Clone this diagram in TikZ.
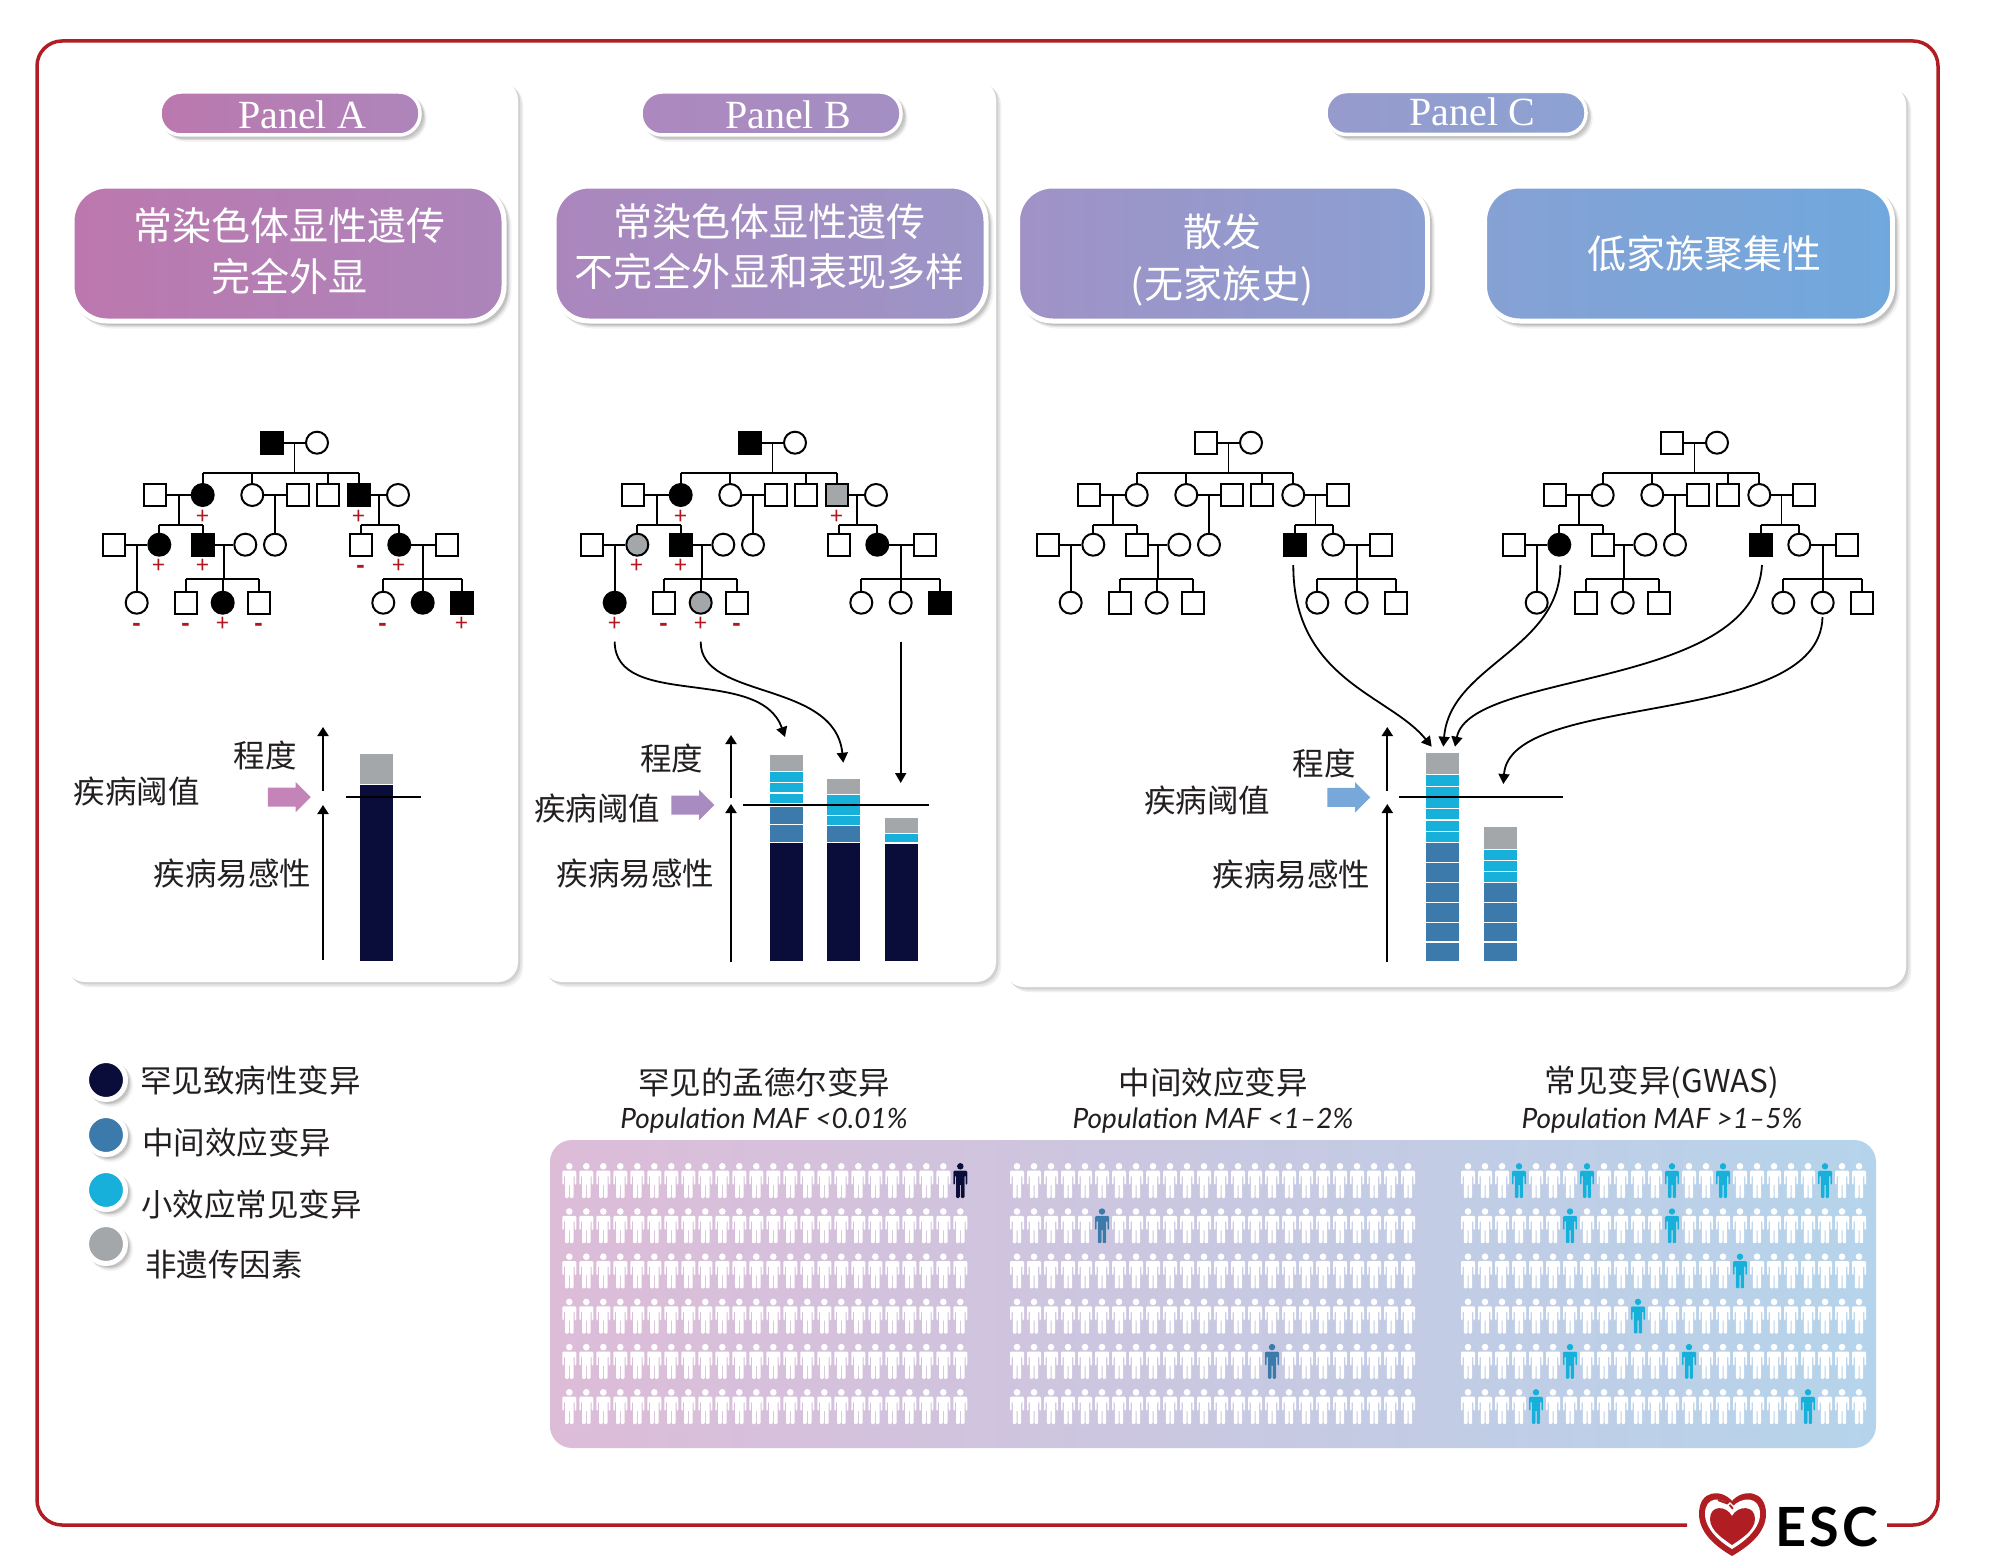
\documentclass[tikz,border=0pt]{standalone}
\usepackage{fontspec}
\setmainfont{Noto Sans CJK SC}
\newfontfamily\pillfont{Liberation Serif}
\newfontfamily\maffont{Lato}
\usetikzlibrary{arrows.meta,calc,shadows,shapes.arrows}

\definecolor{framered}{HTML}{B01E23}
\definecolor{signred}{HTML}{B2161C}
\definecolor{navyvar}{HTML}{0A0D39}
\definecolor{bluevar}{HTML}{3C7AAB}
\definecolor{cyanvar}{HTML}{17B0DA}
\definecolor{greyvar}{HTML}{A4A7AA}
\definecolor{txtdark}{HTML}{231F20}
\definecolor{pillAl}{HTML}{BB78AE}
\definecolor{pillAr}{HTML}{AE85BB}
\definecolor{pillBl}{HTML}{AD88BE}
\definecolor{pillBr}{HTML}{A38FC3}
\definecolor{pillCl}{HTML}{979ACC}
\definecolor{pillCr}{HTML}{8CA2D3}
\definecolor{hdrAl}{HTML}{BC78AE}
\definecolor{hdrAr}{HTML}{AC85BB}
\definecolor{hdrBl}{HTML}{AB86BD}
\definecolor{hdrBr}{HTML}{9C95C7}
\definecolor{hdrCal}{HTML}{A092C6}
\definecolor{hdrCar}{HTML}{8B9FD2}
\definecolor{hdrCbl}{HTML}{86A1D4}
\definecolor{hdrCbr}{HTML}{70A8DD}
\definecolor{arrA}{HTML}{C484B8}
\definecolor{arrB}{HTML}{A88BC0}
\definecolor{arrC}{HTML}{78A8DA}
\definecolor{bandl}{HTML}{DDBCD8}
\definecolor{bandm}{HTML}{C6C2DE}
\definecolor{bandr}{HTML}{B5D4EB}

% one parent pair with its children, y is the height of the sibling line
\newcommand{\family}[6]{
    \coordinate (m#1#2) at ($(#1)!.5!(#2)$);
    \draw[pedline] (#1) -- (#2);
    \draw[pedline] (m#1#2) -- (m#1#2 |- 0,#6);
    \draw[pedline] (#3.north |- 0,#6) -- (#4.north |- 0,#6);
    \foreach \kid in {#5} \draw[pedline] (\kid.north) -- (\kid.north |- 0,#6);
}

% #1 name, #2 shift, #3 the looks of single persons
\newcommand{\pedigree}[3]{
    \begin{scope}[shift={(#2,0)}, name prefix=#1-, #3]
        \node[male, g1/.try] (g1) at (272,442.7) {};
        \node[female, g2/.try] (g2) at (317,442.7) {};
        \node[male, p1/.try] (p1) at (155.3,495) {};
        \node[female, p2/.try] (p2) at (202.7,495) {};
        \node[female, p3/.try] (p3) at (252.3,495) {};
        \node[male, p4/.try] (p4) at (297.7,495) {};
        \node[male, p5/.try] (p5) at (328,495) {};
        \node[male, p6/.try] (p6) at (359.3,495) {};
        \node[female, p7/.try] (p7) at (398,495) {};
        \node[male, c1/.try] (c1) at (114,544.7) {};
        \node[female, c2/.try] (c2) at (159.3,544.7) {};
        \node[male, c3/.try] (c3) at (202.7,544.7) {};
        \node[female, c4/.try] (c4) at (245.3,544.7) {};
        \node[female, c5/.try] (c5) at (275,544.7) {};
        \node[male, c6/.try] (c6) at (361.3,544.7) {};
        \node[female, c7/.try] (c7) at (399.3,544.7) {};
        \node[male, c8/.try] (c8) at (446.7,544.7) {};
        \node[female, d1/.try] (d1) at (136.7,602.7) {};
        \node[male, d2/.try] (d2) at (186,602.7) {};
        \node[female, d3/.try] (d3) at (222.7,602.7) {};
        \node[male, d4/.try] (d4) at (259.3,602.7) {};
        \node[female, d5/.try] (d5) at (383.3,602.7) {};
        \node[female, d6/.try] (d6) at (422.7,602.7) {};
        \node[male, d7/.try] (d7) at (461.7,602.7) {};
        \family{g1}{g2}{p2}{p6}{p2,p3,p5,p6}{472.7}
        \family{p1}{p2}{c2}{c3}{c2,c3}{525.3}
        \family{p3}{p4}{c5}{c5}{c5}{533.3}
        \family{p6}{p7}{c6}{c7}{c6,c7}{525.3}
        \family{c1}{c2}{d1}{d1}{d1}{591.4}
        \family{c3}{c4}{d2}{d4}{d2,d3,d4}{579.3}
        \family{c7}{c8}{d5}{d7}{d5,d6,d7}{579.3}
    \end{scope}
}

\begin{document}
\begin{tikzpicture}
    [
        x=1pt, y=-1pt,
        male/.style = {shape=rectangle, draw=black, fill=white, line width=2,
            minimum size=22, inner sep=0},
        female/.style = {shape=circle, draw=black, fill=white, line width=2,
            minimum size=22, inner sep=0},
        ill/.style = {fill=black},
        part/.style = {fill=greyvar},
        signtxt/.style = {text=signred, font=\fontsize{23}{23}\selectfont, inner sep=0,
            text height=15.4, text depth=0, yshift=-1.5},
        plus/.style = {label={[signtxt]below:+}},
        minus/.style = {label={[signtxt,font=\fontsize{23}{23}\selectfont\bfseries]below:-}},
        pedline/.style = {line width=1.8, draw=black},
        curvearrow/.style = {line width=1.8, -{Triangle[width=11,length=10]}},
        axisarrow/.style = {line width=2, -{Triangle[width=11,length=9]}},
        thresline/.style = {line width=2},
        softshadow/.style = {
            general shadow={fill=black, draw=black, line width=#1, opacity=.05, shadow xshift=5, shadow yshift=5},
            general shadow={fill=black, draw=black, line width=#1, opacity=.06, shadow xshift=3.5, shadow yshift=3.5},
            general shadow={fill=black, draw=black, line width=#1, opacity=.08, shadow xshift=2, shadow yshift=2}},
        panelbox/.style = {fill=white, rounded corners=20, softshadow=.1},
        pillbox/.style = {draw=white, line width=3.5, rounded corners=21, inner sep=0, softshadow=3.5},
        hdrbox/.style = {draw=white, line width=5, rounded corners=35, inner sep=0, softshadow=5},
        pilltxt/.style = {text=white, inner sep=0, font=\pillfont\fontsize{40}{40}\selectfont},
        hdrtxt/.style = {text=white, inner sep=0, align=center,
            font=\fontsize{39}{50}\selectfont},
        lbl/.style = {text=txtdark, inner sep=0, font=\fontsize{31.5}{31.5}\selectfont},
        maftxt/.style = {text=txtdark, inner sep=0, font=\maffont\itshape\fontsize{28}{28}\selectfont},
        legdot/.style = {shape=circle, draw=white, line width=5, minimum size=39, inner sep=0, softshadow=5},
        thresarrow/.style = {shape=single arrow, draw=none, inner xsep=0, inner ysep=9.3, minimum height=43,
            single arrow head extend=5.6, single arrow head indent=0},
        pics/person/.style = {code={
            \fill[#1] (0,-14.2) circle (3.3);
            \fill[#1, rounded corners=1.1] (-7,-9.8) -- (7,-9.8) -- (7,4.2) -- (5.4,4.2)
                -- (5.4,-5) -- (4.2,-5) -- (4.2,17.5) -- (0.5,17.5) -- (0.5,3.5) -- (-0.5,3.5)
                -- (-0.5,17.5) -- (-4.2,17.5) -- (-4.2,-5) -- (-5.4,-5) -- (-5.4,4.2)
                -- (-7,4.2) -- cycle;
        }}
    ]
    \useasboundingbox (0,0) rectangle (2000,1568);

    % frame
    \draw[framered, line width=3.5, rounded corners=25] (1687,1525) -- (37,1525) -- (37,41)
        -- (1938,41) -- (1938,1525) -- (1887,1525);

    % panels
    \path[panelbox] (65,80) rectangle (518,982);
    \path[panelbox] (542,80) rectangle (996,982);
    \path[panelbox] (1004,85) rectangle (1906,987);

    \node[pillbox, minimum width=260, minimum height=43, left color=pillAl, right color=pillAr] (pillA) at (290,113.5) {};
    \node[pilltxt] (txtpillA) at (302,115) {Panel A};
    \node[pillbox, minimum width=260, minimum height=43, left color=pillBl, right color=pillBr] (pillB) at (771,113.5) {};
    \node[pilltxt] (txtpillB) at (788,115) {Panel B};
    \node[pillbox, minimum width=260, minimum height=43, left color=pillCl, right color=pillCr] (pillC) at (1456,113) {};
    \node[pilltxt] (txtpillC) at (1472,111.5) {Panel C};

    \node[hdrbox, minimum width=432, minimum height=135, left color=hdrAl, right color=hdrAr] (hdrA) at (288,253.5) {};
    \node[hdrtxt, font=\fontsize{39}{51}\selectfont] (txthdrA) at (289,251) {常染色体显性遗传\\完全外显};
    \node[hdrbox, minimum width=432, minimum height=135, left color=hdrBl, right color=hdrBr] (hdrB) at (770,253.5) {};
    \node[hdrtxt] (txthdrB) at (769,246.5) {常染色体显性遗传\\不完全外显和表现多样};
    \node[hdrbox, minimum width=410, minimum height=135, left color=hdrCal, right color=hdrCar] (hdrCa) at (1222.5,253.5) {};
    \node[hdrtxt, font=\fontsize{39}{52}\selectfont] (txthdrCa) at (1222,259.5) {散发\\(无家族史)};
    \node[hdrbox, minimum width=408, minimum height=135, left color=hdrCbl, right color=hdrCbr] (hdrCb) at (1688.5,253.5) {};
    \node[hdrtxt] (txthdrCb) at (1704,254) {低家族聚集性};

    % pedigrees
    \pedigree{A}{0}{g1/.style={ill}, p2/.style={ill,plus}, p6/.style={ill,plus},
        c2/.style={ill,plus}, c3/.style={ill,plus}, c6/.style={minus}, c7/.style={ill,plus},
        d1/.style={minus}, d2/.style={minus}, d3/.style={ill,plus}, d4/.style={minus},
        d5/.style={minus}, d6/.style={ill}, d7/.style={ill,plus}}
    \pedigree{B}{478}{g1/.style={ill}, p2/.style={ill,plus}, p6/.style={part,plus},
        c2/.style={part,plus}, c3/.style={ill,plus}, c7/.style={ill},
        d1/.style={ill,plus}, d2/.style={minus}, d3/.style={part,plus}, d4/.style={minus},
        d7/.style={ill}}
    \pedigree{Ca}{934}{p6/.style={shape=circle}, p7/.style={shape=rectangle, xshift=5.6},
        c6/.style={ill}}
    \pedigree{Cb}{1400}{p6/.style={shape=circle}, p7/.style={shape=rectangle, xshift=5.6},
        c2/.style={ill}, c6/.style={ill}}

    % bars
    \foreach \x/\ya/\yb/\col in {
        360/754/784/greyvar, 360/785/960.5/navyvar,
        770/755.3/770.7/greyvar, 770/771.7/781.7/cyanvar, 770/782.7/792.3/cyanvar, 770/793.7/803.3/cyanvar,
        770/807.3/823.7/bluevar, 770/825/842/bluevar, 770/843/961.3/navyvar,
        827/778.7/793.7/greyvar, 827/794.7/804/cyanvar, 827/805/814.7/cyanvar, 827/816/825/cyanvar,
        827/826/842/bluevar, 827/843/961.3/navyvar,
        885/817.7/833/greyvar, 885/834/842.3/cyanvar, 885/843.5/961.3/navyvar,
        1426/752.7/774/greyvar, 1426/775.3/785.7/cyanvar, 1426/786.7/797/cyanvar, 1426/797/808/cyanvar,
        1426/809.3/819.3/cyanvar, 1426/820.7/830.7/cyanvar, 1426/832/842/cyanvar,
        1426/843.3/862/bluevar, 1426/863/882/bluevar, 1426/883/901.7/bluevar,
        1426/903/921.7/bluevar, 1426/923/941.3/bluevar, 1426/942.7/961.3/bluevar,
        1483.5/827.3/848.7/greyvar, 1483.5/850/860/cyanvar, 1483.5/861/871/cyanvar, 1483.5/872.3/882/cyanvar,
        1483.5/883.3/901.7/bluevar, 1483.5/903/921.7/bluevar, 1483.5/923/941.3/bluevar, 1483.5/942.7/961.3/bluevar}
        \fill[\col] (\x,\ya) rectangle ({\x+33},\yb);

    % axes and threshold lines
    \foreach \nm/\x/\ya/\yb/\yc/\yd/\la/\lb/\ly in {
        A/323/727/791/805/960/346/421/797,
        B/731/735/798/804/962/743/929/805,
        C/1387.3/727/791/804/962/1399/1563/797.3} {
        \coordinate (sev\nm) at (\x,\yb);
        \coordinate (sevtop\nm) at (\x,\ya);
        \coordinate (sus\nm) at (\x,\yd);
        \coordinate (sustop\nm) at (\x,\yc);
        \coordinate (thra\nm) at (\la,\ly);
        \coordinate (thrb\nm) at (\lb,\ly);
        \draw[axisarrow] (sev\nm) -- (sevtop\nm);
        \draw[axisarrow] (sus\nm) -- (sustop\nm);
        \draw[thresline] (thra\nm) -- (thrb\nm);
    }

    \node[thresarrow, fill=arrA] (thrarrA) at (284.5,797) {};
    \node[thresarrow, fill=arrB] (thrarrB) at (688,805) {};
    \node[thresarrow, fill=arrC] (thrarrC) at (1344,797.3) {};

    \node[lbl] (sevlabelA) at (265,755.5) {程度};
    \node[lbl] (thrlabelA) at (136.5,791) {疾病阈值};
    \node[lbl] (suslabelA) at (232.5,874) {疾病易感性};
    \node[lbl] (sevlabelB) at (671.7,758.5) {程度};
    \node[lbl] (thrlabelB) at (597.3,808) {疾病阈值};
    \node[lbl] (suslabelB) at (635.5,874) {疾病易感性};
    \node[lbl] (sevlabelC) at (1324.3,763.5) {程度};
    \node[lbl] (thrlabelC) at (1207,800) {疾病阈值};
    \node[lbl] (suslabelC) at (1291.5,875) {疾病易感性};

    % curves down to the bars
    \coordinate (fromBa) at (614.7,641.7);
    \coordinate (toBa) at (785,737);
    \coordinate (fromBb) at (700.7,641.7);
    \coordinate (toBb) at (843.3,762.7);
    \coordinate (fromBc) at (900.7,641.7);
    \coordinate (toBc) at (900.7,783);
    \coordinate (fromCa) at (1293.3,565);
    \coordinate (toCa) at (1431.7,746.7);
    \coordinate (fromCb) at (1560.4,565);
    \coordinate (toCb) at (1443.3,746.7);
    \coordinate (fromCc) at (1762,565);
    \coordinate (toCc) at (1455,746.7);
    \coordinate (fromCd) at (1822.5,617);
    \coordinate (toCd) at (1503.3,784);
    \draw[curvearrow] (fromBa) .. controls (615,710) and (760,665) .. (toBa);
    \draw[curvearrow] (fromBb) .. controls (700,700) and (835,680) .. (toBb);
    \draw[curvearrow] (fromBc) -- (toBc);
    \draw[curvearrow] (fromCa) .. controls (1293,680) and (1390,695) .. (toCa);
    \draw[curvearrow] (fromCb) .. controls (1560,650) and (1450,665) .. (toCb);
    \draw[curvearrow] (fromCc) .. controls (1755,690) and (1470,670) .. (toCc);
    \draw[curvearrow] (fromCd) .. controls (1820,730) and (1510,690) .. (toCd);

    % legend
    \node[legdot, fill=navyvar] (legrare) at (106,1080) {};
    \node[legdot, fill=bluevar] (legmid) at (106,1135) {};
    \node[legdot, fill=cyanvar] (legcommon) at (106,1190) {};
    \node[legdot, fill=greyvar] (legnon) at (106,1244) {};
    \node[lbl, anchor=west] (txtrare) at (140,1080.5) {罕见致病性变异};
    \node[lbl, anchor=west] (txtmid) at (142,1142) {中间效应变异};
    \node[lbl, anchor=west] (txtcommon) at (141,1204) {小效应常见变异};
    \node[lbl, anchor=west] (txtnon) at (145,1265) {非遗传因素};

    % population band
    \node[rounded corners=22, inner sep=0, minimum width=1326, minimum height=308,
        left color=bandl, middle color=bandm, right color=bandr] (band) at (1213,1294) {};
    \node[lbl] (ttlrare) at (764,1082.5) {罕见的孟德尔变异};
    \node[maftxt] (mafrare) at (764,1120.5) {Population MAF <0.01\%};
    \node[lbl] (ttlmid) at (1213,1082.5) {中间效应变异};
    \node[maftxt] (mafmid) at (1213,1120.5) {Population MAF <1–2\%};
    \node[lbl] (ttlcommon) at (1662,1082.5) {常见变异(GWAS)};
    \node[maftxt] (mafcommon) at (1662,1120.5) {Population MAF >1–5\%};

    \foreach \xs in {569.3,1017,1468}
        \foreach \r in {0,...,5}
            \foreach \i in {0,...,23}
                \pic at ({\xs+17*\i},{1180.5+45.2*\r}) {person=white};
    \foreach \xs/\i/\r/\col in {
        569.3/23/0/navyvar,
        1017/5/1/bluevar, 1017/15/4/bluevar,
        1468/3/0/cyanvar, 1468/7/0/cyanvar, 1468/12/0/cyanvar, 1468/15/0/cyanvar, 1468/21/0/cyanvar,
        1468/6/1/cyanvar, 1468/12/1/cyanvar, 1468/16/2/cyanvar, 1468/10/3/cyanvar,
        1468/6/4/cyanvar, 1468/13/4/cyanvar, 1468/4/5/cyanvar, 1468/20/5/cyanvar}
        \pic at ({\xs+17*\i},{1180.5+45.2*\r}) {person=\col};

    % logo
    \fill[framered] (1732,1501) .. controls (1722,1489) and (1699,1489) .. (1699,1514)
        .. controls (1699,1535) and (1720,1549) .. (1732,1556)
        .. controls (1744,1549) and (1766,1535) .. (1766,1514)
        .. controls (1766,1489) and (1742,1489) .. (1732,1501) -- cycle;
    \fill[white] (1732,1507) .. controls (1722,1496) and (1705,1496) .. (1705,1514)
        .. controls (1705,1530) and (1722,1543) .. (1732,1549)
        .. controls (1742,1543) and (1760,1530) .. (1760,1514)
        .. controls (1760,1496) and (1742,1496) .. (1732,1507) -- cycle;
    \fill[framered] (1732,1516) .. controls (1726,1505) and (1710,1505) .. (1710,1519)
        .. controls (1710,1531) and (1725,1540) .. (1732,1545)
        .. controls (1739,1540) and (1755,1531) .. (1755,1519)
        .. controls (1755,1505) and (1738,1505) .. (1732,1516) -- cycle;
    \draw[framered, line width=2] (1718,1500) -- (1729,1504) -- (1733,1509);
    \draw[white, line width=1.4] (1725,1508) -- (1730,1503) -- (1735,1508) -- (1731,1512);
    \node[text=black, inner sep=0, anchor=west, font=\maffont\bfseries\addfontfeature{LetterSpace=6}\fontsize{54}{54}\selectfont] (esclogo) at (1775,1527) {ESC};
\end{tikzpicture}
\end{document}
